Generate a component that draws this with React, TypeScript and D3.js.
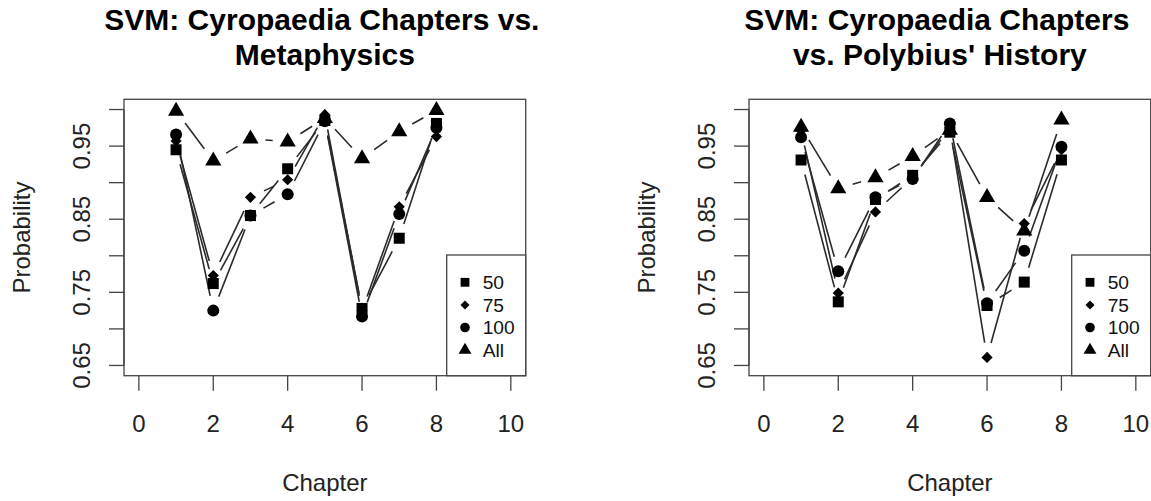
import React from "react";
import * as d3 from "d3";

// ---- data ----
const chapters = [1, 2, 3, 4, 5, 6, 7, 8];
const seriesLabels = ["50", "75", "100", "All"];
const xTicks = [0, 2, 4, 6, 8, 10];
const yTicks = [0.65, 0.7, 0.75, 0.8, 0.85, 0.9, 0.95, 1.0];
const yTickLabels = ["0.65", "", "0.75", "", "0.85", "", "0.95", ""];

const meta50 = [0.945, 0.762, 0.855, 0.919, 0.985, 0.728, 0.824, 0.981];
const meta75 = [0.957, 0.773, 0.880, 0.904, 0.993, 0.725, 0.867, 0.963];
const meta100 = [0.966, 0.725, 0.855, 0.884, 0.984, 0.717, 0.857, 0.975];
const metaAll = [0.998, 0.930, 0.960, 0.956, 0.988, 0.933, 0.970, 0.999];

const poly50 = [0.931, 0.737, 0.877, 0.910, 0.969, 0.732, 0.764, 0.931];
const poly75 = [0.971, 0.749, 0.860, 0.907, 0.975, 0.661, 0.844, 0.945];
const poly100 = [0.962, 0.779, 0.880, 0.905, 0.981, 0.735, 0.807, 0.949];
const polyAll = [0.976, 0.892, 0.907, 0.936, 0.972, 0.880, 0.834, 0.986];

const panels = [
  {
    title: ["SVM: Cyropaedia Chapters vs.", "Metaphysics"],
    series: [meta50, meta75, meta100, metaAll],
    offset: 0,
    titleShift: -3,
  },
  {
    title: ["SVM: Cyropaedia Chapters", "vs. Polybius' History"],
    series: [poly50, poly75, poly100, polyAll],
    offset: 625,
    titleShift: -13,
  },
];

const shapes = ["square", "diamond", "circle", "triangle"];
const FONT = "'Liberation Sans', Arial, Helvetica, sans-serif";

function Symbol({ shape, x, y, s }: { shape: string; x: number; y: number; s: number }) {
  if (shape === "circle") return <circle cx={x} cy={y} r={6 * s} fill="#000" />;
  if (shape === "square") {
    const h = 5.5 * s;
    return <rect x={x - h} y={y - h} width={2 * h} height={2 * h} fill="#000" />;
  }
  if (shape === "diamond") {
    const h = 5.6 * s;
    return <path d={`M${x},${y - h}L${x + h},${y}L${x},${y + h}L${x - h},${y}Z`} fill="#000" />;
  }
  const xc = 6 * s;
  const r = 1.555 * xc;
  const yc = 0.7776 * xc;
  const hw = 1.347 * xc;
  return <path d={`M${x},${y - r}L${x + hw},${y + yc}L${x - hw},${y + yc}Z`} fill="#000" />;
}

function Panel({ panel }: { panel: (typeof panels)[number] }) {
  const left = 124 + panel.offset;
  const right = 525.7 + panel.offset;
  const top = 99.3;
  const bottom = 375.7;
  const x = d3.scaleLinear().domain([-0.4, 10.4]).range([left, right]);
  const y = d3.scaleLinear().domain([0.636, 1.014]).range([bottom, top]);
  const cx = (left + right) / 2;
  const cy = (top + bottom) / 2;
  const gap = 15;
  const tick = 15;

  const segs: JSX.Element[] = [];
  panel.series.forEach((vals, si) => {
    for (let i = 1; i < vals.length; i++) {
      const x0 = x(chapters[i - 1]), y0 = y(vals[i - 1]);
      const x1 = x(chapters[i]), y1 = y(vals[i]);
      const len = Math.hypot(x1 - x0, y1 - y0);
      const f = gap / len;
      if (f < 0.5) {
        segs.push(
          <line
            key={`${si}-${i}`}
            x1={x0 + f * (x1 - x0)}
            y1={y0 + f * (y1 - y0)}
            x2={x1 + f * (x0 - x1)}
            y2={y1 + f * (y0 - y1)}
            stroke="#2a2a2a"
            strokeWidth={1.6}
          />
        );
      }
    }
  });

  const legW = 79;
  const legH = 120.7;
  const legX = right - legW;
  const legY = bottom - legH;
  const rowH = 22.6;
  const tx = cx + panel.titleShift;

  return (
    <g>
      <text x={tx} y={30} textAnchor="middle" fontFamily={FONT} fontWeight="bold" fontSize={30} fill="#000">
        {panel.title[0]}
      </text>
      <text x={tx + 3} y={65} textAnchor="middle" fontFamily={FONT} fontWeight="bold" fontSize={30} fill="#000">
        {panel.title[1]}
      </text>
      <rect x={left} y={top} width={right - left} height={bottom - top} fill="none" stroke="#444" strokeWidth={1.3} />
      {/* y axis */}
      <line x1={left} x2={left} y1={y(yTicks[0])} y2={y(yTicks[yTicks.length - 1])} stroke="#444" strokeWidth={1.3} />
      {yTicks.map((t, i) => (
        <g key={`yt${i}`}>
          <line x1={left - tick} x2={left} y1={y(t)} y2={y(t)} stroke="#444" strokeWidth={1.3} />
          {yTickLabels[i] && (
            <text
              transform={`translate(${left - 34},${y(t)}) rotate(-90)`}
              textAnchor="middle"
              fontFamily={FONT}
              fontSize={24}
              fill="#222"
            >
              {yTickLabels[i]}
            </text>
          )}
        </g>
      ))}
      {/* x axis */}
      {xTicks.map((t) => (
        <g key={`xt${t}`}>
          <line x1={x(t)} x2={x(t)} y1={bottom} y2={bottom + tick} stroke="#444" strokeWidth={1.3} />
          <text x={x(t)} y={431.5} textAnchor="middle" fontFamily={FONT} fontSize={24} fill="#222">
            {t}
          </text>
        </g>
      ))}
      <text x={cx} y={491} textAnchor="middle" fontFamily={FONT} fontSize={24} fill="#222">
        Chapter
      </text>
      <text
        transform={`translate(${left - 94},${cy}) rotate(-90)`}
        textAnchor="middle"
        fontFamily={FONT}
        fontSize={24}
        fill="#222"
      >
        Probability
      </text>
      {segs}
      {panel.series.map((vals, si) =>
        vals.map((v, i) => <Symbol key={`p${si}-${i}`} shape={shapes[si]} x={x(chapters[i])} y={y(v)} s={1} />)
      )}
      {/* legend */}
      <rect x={legX} y={legY} width={legW} height={legH} fill="#fff" stroke="#444" strokeWidth={1.3} />
      {seriesLabels.map((lab, i) => (
        <g key={`lg${i}`}>
          <Symbol shape={shapes[i]} x={legX + 18.3} y={legY + 27.3 + i * rowH} s={0.8} />
          <text
            x={legX + 36}
            y={legY + 27.3 + i * rowH}
            dy="0.36em"
            fontFamily={FONT}
            fontSize={19.2}
            fill="#111"
          >
            {lab}
          </text>
        </g>
      ))}
    </g>
  );
}

export default function App() {
  return (
    <svg
      width={1151}
      height={501}
      style={{ position: "absolute", left: 0, top: 0, background: "#fff" }}
    >
      <rect width={1151} height={501} fill="#fff" />
      {panels.map((p, i) => (
        <Panel key={i} panel={p} />
      ))}
    </svg>
  );
}
